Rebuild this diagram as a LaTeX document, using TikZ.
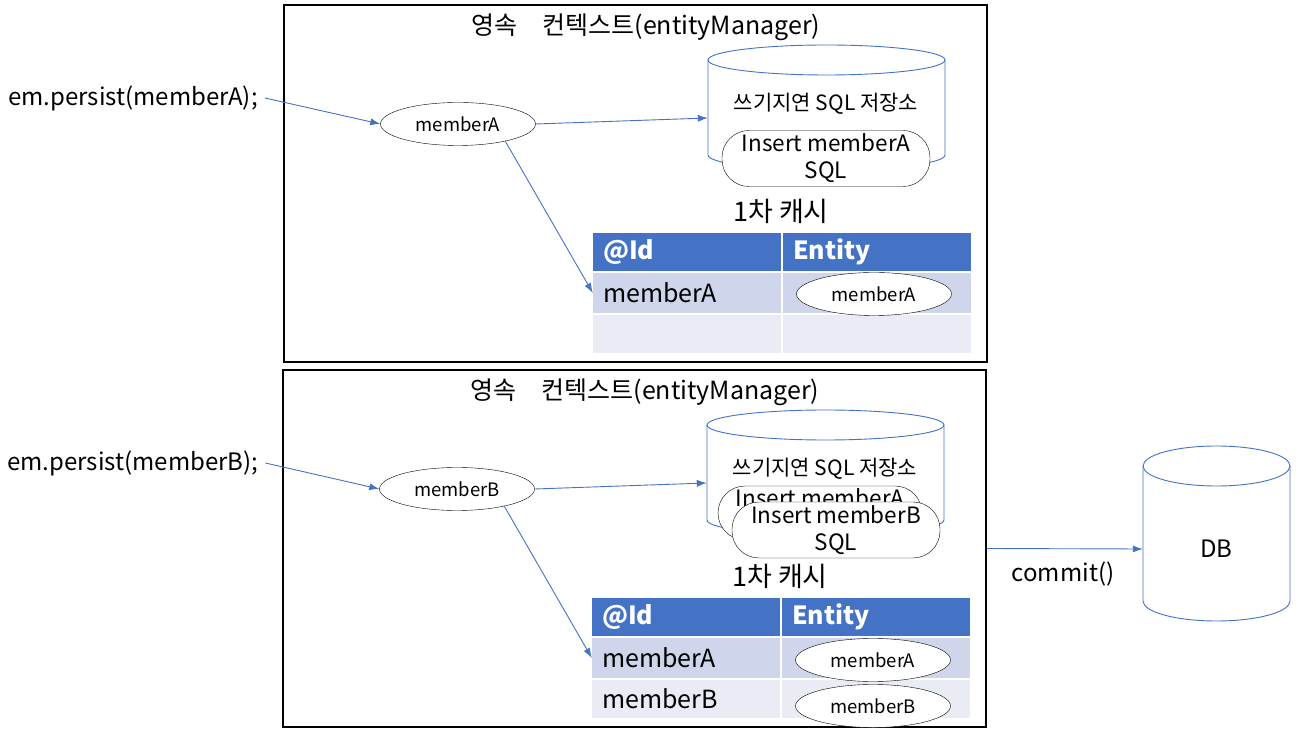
\documentclass[tikz,border=0pt]{standalone}
\usepackage{fontspec}
\setmainfont{Noto Sans CJK KR}
\usetikzlibrary{arrows.meta,positioning,shapes.geometric}
\definecolor{blau}{HTML}{4472C4}
\definecolor{zeileeins}{HTML}{CFD5EA}
\definecolor{zeilezwei}{HTML}{E9EBF5}

\def\punkt#1#2{
	({#1},{736-(#2)})
}
\def\zylinder#1#2#3#4#5{
	\fill[white] \punkt{#1-#4}{#2} -- \punkt{#1-#4}{#3}
		arc[start angle=180,end angle=360,x radius=#4,y radius=#5]
		-- \punkt{#1+#4}{#2} -- cycle;
	\draw[blau,line width=0.9] \punkt{#1}{#2} ellipse[x radius=#4,y radius=#5];
	\draw[blau,line width=0.9] \punkt{#1-#4}{#2} -- \punkt{#1-#4}{#3}
		arc[start angle=180,end angle=360,x radius=#4,y radius=#5]
		-- \punkt{#1+#4}{#2};
}
\def\kontext#1#2#3{
	\node[titel] (#1titel) at \punkt{646+#2}{27+#3} {영속\enspace\enspace 컨텍스트(entityManager)};
	\node[kasten] (#1box) at \punkt{635.5+#2}{183.5+#3} {};
	\zylinder{826.5+#2}{60+#3}{155+#3}{118.5}{15}
	\node[minimum width=237,minimum height=100,inner sep=0] (#1speicher) at \punkt{826.5+#2}{118+#3} {};
	\node[mittel] (#1speichertext) at \punkt{826+#2}{104+#3} {쓰기지연 SQL 저장소};
	\node[font=\fontsize{27}{32}\selectfont,inner sep=1] (#1cache) at \punkt{781+#2}{211+#3} {1차 캐시};
	\node[zelle,kopf] (#1id) at \punkt{687+#2}{252+#3} {@Id};
	\node[zelle,kopf] (#1entity) at \punkt{877+#2}{252+#3} {Entity};
	\node[zelle,fill=zeileeins,minimum height=40] (#1ida) at \punkt{687+#2}{293+#3} {memberA};
	\node[zelle,fill=zeileeins,minimum height=40] (#1enta) at \punkt{877+#2}{293+#3} {};
	\node[zelle,fill=zeilezwei] (#1idb) at \punkt{687+#2}{334+#3} {};
	\node[zelle,fill=zeilezwei] (#1entb) at \punkt{877+#2}{334+#3} {};
}

\begin{document}
\begin{tikzpicture}[x=1pt,y=1pt,>={Latex[length=10pt,width=7pt]},
	gross/.style={font=\fontsize{24}{28}\selectfont,inner sep=2},
	titel/.style={font=\fontsize{25}{30}\selectfont,inner sep=1},
	mittel/.style={font=\fontsize{21}{25}\selectfont,inner sep=1},
	kasten/.style={draw,line width=1.2,minimum width=703,minimum height=357,inner sep=0},
	zelle/.style={minimum height=38,text width=168,inner xsep=10,inner ysep=0,align=left,
		font=\fontsize{25}{30}\selectfont},
	kopf/.style={fill=blau,text=white,font=\fontsize{25}{30}\selectfont\bfseries},
	objekt/.style={ellipse,draw,fill=white,minimum width=155,minimum height=43,inner sep=0,
		font=\fontsize{18.5}{22}\selectfont},
	kapsel/.style={draw,fill=white,rounded corners=27,minimum width=208,minimum height=56,
		inner sep=0,align=center,font=\fontsize{22.5}{27}\selectfont},
	pfeil/.style={->,draw=blau,line width=0.9}]
\useasboundingbox (0,0) rectangle (1305,736);

% oben: memberA
\kontext{o}{0}{0}
\node[kapsel] (oinsa) at \punkt{826}{158.5} {Insert memberA\\SQL};
\node[objekt] (oobja) at \punkt{874}{294} {memberA};
\node[gross,anchor=west,inner sep=7] (opersist) at \punkt{1}{98} {em.persist(memberA);};
\node[objekt] (omembera) at \punkt{458}{124} {memberA};
\draw[pfeil] (opersist.east) -- (omembera.west);
\draw[pfeil] (omembera.east) -- (ospeicher.west);
\draw[pfeil] (omembera.-20) -- (oida.west);

% unten: memberB
\kontext{u}{-1}{365}
\node[kapsel,minimum width=204,minimum height=54] (uinsa) at \punkt{820}{513} {Insert memberA\\SQL};
\node[kapsel] (uinsb) at \punkt{836}{530} {Insert memberB\\SQL};
\node[zelle,fill=zeilezwei] at (uidb) {memberB};
\node[objekt] (uobja) at \punkt{873}{660} {memberA};
\node[objekt] (uobjb) at \punkt{873}{706} {memberB};
\node[gross,anchor=west,inner sep=7] (upersist) at \punkt{0}{463} {em.persist(memberB);};
\node[objekt] (umemberb) at \punkt{457}{489} {memberB};
\draw[pfeil] (upersist.east) -- (umemberb.west);
\draw[pfeil] (umemberb.east) -- (uspeicher.west);
\draw[pfeil] (umemberb.-20) -- (uida.west);

% DB
\zylinder{1216.5}{466}{601}{73.5}{20}
\node[gross,minimum width=147,minimum height=100,inner sep=0] (db) at \punkt{1216.5}{549} {DB};
\draw[pfeil] (ubox.east) -- (db.west);
\node[gross] (commit) at \punkt{1063}{574} {commit()};
\end{tikzpicture}
\end{document}
